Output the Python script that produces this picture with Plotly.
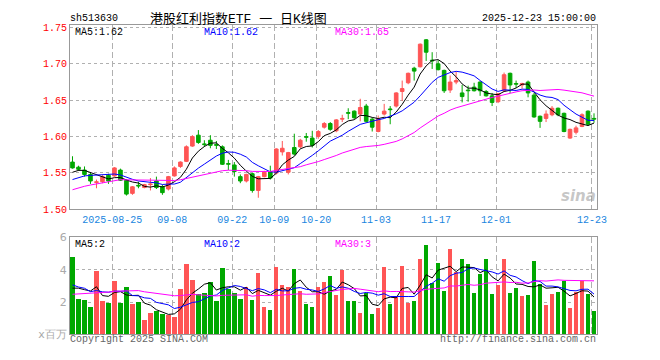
import plotly.graph_objects as go
import pandas as pd
import numpy as np

# ---------------- data ----------------
open_ = [1.565, 1.558, 1.554, 1.548, 1.537, 1.538, 1.547, 1.546, 1.554, 1.540,
         1.522, 1.533, 1.530, 1.534, 1.539, 1.531, 1.528, 1.546, 1.559, 1.566,
         1.587, 1.602, 1.590, 1.595, 1.589, 1.586, 1.563, 1.561, 1.545, 1.539,
         1.549, 1.526, 1.545, 1.552, 1.550, 1.579, 1.551, 1.585, 1.586, 1.600,
         1.598, 1.600, 1.613, 1.618, 1.608, 1.624, 1.633, 1.635, 1.631, 1.642,
         1.624, 1.607, 1.631, 1.638, 1.642, 1.662, 1.674, 1.694, 1.696, 1.733,
         1.705, 1.700, 1.691, 1.664, 1.675, 1.660, 1.664, 1.668, 1.675, 1.662,
         1.656, 1.648, 1.663, 1.687, 1.673, 1.671, 1.675, 1.657, 1.628, 1.625,
         1.630, 1.639, 1.632, 1.598, 1.606, 1.614, 1.635, 1.625]
high = [1.573, 1.560, 1.559, 1.551, 1.541, 1.547, 1.549, 1.558, 1.556, 1.541,
        1.532, 1.538, 1.535, 1.543, 1.545, 1.534, 1.546, 1.559, 1.566, 1.588,
        1.602, 1.609, 1.595, 1.602, 1.594, 1.588, 1.568, 1.565, 1.548, 1.549,
        1.550, 1.546, 1.553, 1.560, 1.584, 1.594, 1.579, 1.604, 1.597, 1.605,
        1.608, 1.609, 1.620, 1.620, 1.624, 1.630, 1.639, 1.636, 1.652, 1.645,
        1.626, 1.629, 1.645, 1.642, 1.661, 1.677, 1.688, 1.696, 1.728, 1.734,
        1.716, 1.705, 1.692, 1.684, 1.689, 1.671, 1.670, 1.674, 1.676, 1.664,
        1.660, 1.660, 1.688, 1.688, 1.677, 1.674, 1.677, 1.660, 1.629, 1.636,
        1.642, 1.640, 1.633, 1.611, 1.615, 1.632, 1.636, 1.632]
low = [1.556, 1.553, 1.545, 1.535, 1.529, 1.536, 1.535, 1.545, 1.539, 1.519,
       1.520, 1.529, 1.529, 1.526, 1.528, 1.520, 1.526, 1.545, 1.557, 1.565,
       1.586, 1.590, 1.586, 1.584, 1.583, 1.561, 1.554, 1.545, 1.536, 1.537,
       1.523, 1.516, 1.544, 1.541, 1.548, 1.574, 1.548, 1.574, 1.584, 1.593,
       1.585, 1.597, 1.611, 1.608, 1.606, 1.620, 1.624, 1.624, 1.621, 1.619,
       1.607, 1.606, 1.629, 1.617, 1.640, 1.649, 1.672, 1.677, 1.695, 1.704,
       1.693, 1.691, 1.660, 1.660, 1.672, 1.647, 1.648, 1.662, 1.656, 1.655,
       1.642, 1.646, 1.662, 1.660, 1.667, 1.666, 1.654, 1.626, 1.612, 1.620,
       1.628, 1.628, 1.606, 1.597, 1.603, 1.613, 1.615, 1.619]
close = [1.557, 1.555, 1.548, 1.539, 1.538, 1.545, 1.539, 1.557, 1.540, 1.521,
         1.531, 1.532, 1.534, 1.535, 1.530, 1.523, 1.545, 1.557, 1.565, 1.586,
         1.600, 1.592, 1.589, 1.588, 1.588, 1.562, 1.562, 1.552, 1.539, 1.548,
         1.526, 1.545, 1.551, 1.543, 1.583, 1.584, 1.578, 1.576, 1.595, 1.599,
         1.588, 1.607, 1.618, 1.610, 1.623, 1.625, 1.632, 1.626, 1.640, 1.621,
         1.613, 1.624, 1.635, 1.637, 1.660, 1.666, 1.687, 1.690, 1.727, 1.716,
         1.704, 1.692, 1.663, 1.675, 1.677, 1.655, 1.663, 1.663, 1.663, 1.656,
         1.647, 1.659, 1.685, 1.671, 1.672, 1.673, 1.660, 1.627, 1.621, 1.631,
         1.639, 1.630, 1.607, 1.610, 1.612, 1.630, 1.617, 1.624]
volume = [4.81, 2.19, 2.13, 1.69, 3.92, 2.07, 1.95, 3.32, 1.95, 2.90,
          1.89, 2.03, 0.88, 1.35, 1.47, 1.29, 1.19, 1.05, 2.78, 4.33,
          3.38, 2.48, 2.54, 3.24, 2.07, 4.09, 2.78, 2.54, 2.19, 2.96,
          2.13, 3.80, 1.71, 1.53, 4.15, 3.08, 2.90, 4.03, 2.66, 1.89,
          1.71, 2.90, 3.26, 3.62, 2.43, 3.97, 2.07, 2.07, 1.35, 2.54,
          1.29, 1.65, 4.15, 1.89, 2.31, 4.21, 1.95, 2.07, 4.69, 5.52,
          3.20, 4.39, 2.66, 5.29, 3.86, 4.63, 4.33, 2.54, 3.74, 4.69,
          2.49, 3.08, 4.63, 2.54, 2.84, 2.37, 2.43, 4.51, 3.14, 1.83,
          2.49, 2.60, 3.32, 1.65, 2.60, 3.32, 2.49, 1.47]
# sessions before the visible window (estimated from the MA lines at the left edge)
prev_close = [1.478, 1.482, 1.487, 1.490, 1.494, 1.498, 1.502,
              1.515, 1.528, 1.535, 1.540, 1.538, 1.542, 1.536, 1.540, 1.545,
              1.538, 1.535, 1.532, 1.545,
              1.525, 1.528, 1.532, 1.534, 1.536,
              1.542, 1.548, 1.553, 1.555]
prev_volume = [1.5, 1.8, 1.6, 1.9, 1.4, 1.7, 1.8, 1.6, 1.7, 1.8,
               2.4, 3.1, 2.6, 2.9, 2.5, 3.0, 2.7, 2.4, 2.8, 2.6,
               3.5, 2.9, 3.8, 3.2, 2.9,
               2.2, 2.6, 2.1, 2.59]
tick_dates = ["2025-08-25", "2025-09-08", "2025-09-22", "2025-10-09", "2025-10-20",
              "2025-11-03", "2025-11-17", "2025-12-01", "2025-12-23"]
tick_text = ["2025-08-25", "09-08", "09-22", "10-09", "10-20",
             "11-03", "11-17", "12-01", "12-23"]
price_ticks = [1.50, 1.55, 1.60, 1.65, 1.70, 1.75]
vol_ticks = [0, 2, 4, 6]
vol_tick_text = ["x百万", "2", "4", "6"]
ma_labels = ["MA5:1.62", "MA10:1.62", "MA30:1.65"]
vol_ma_labels = ["MA5:2", "MA10:2", "MA30:3"]

# ---------------- derived ----------------
days = pd.bdate_range("2025-08-14", "2025-12-23")
days = [d for d in days if not (pd.Timestamp("2025-10-01") <= d <= pd.Timestamp("2025-10-08"))]
date_str = [d.strftime("%Y-%m-%d") for d in days]
n = len(close)
idx = list(range(n))

RED = "#ff5555"
GREEN = "#00a800"
up = [c >= o for o, c in zip(open_, close)]
colors = [RED if u else GREEN for u in up]

all_close = pd.Series(prev_close + close)
all_vol = pd.Series(prev_volume + volume)
k = len(prev_close)
ma = {p: all_close.rolling(p).mean().iloc[k:].tolist() for p in (5, 10, 30)}
vma = {p: all_vol.rolling(p).mean().iloc[k:].tolist() for p in (5, 10, 30)}
ma_colors = {5: "#000000", 10: "#0000ff", 30: "#ff00ff"}

fig = go.Figure()

# wicks
for want, col in ((True, RED), (False, GREEN)):
    wx, wy = [], []
    for i in idx:
        if up[i] == want:
            wx += [i, i, None]
            wy += [low[i], high[i], None]
    fig.add_trace(go.Scatter(x=wx, y=wy, mode="lines", line=dict(color=col, width=1),
                             hoverinfo="skip", showlegend=False, xaxis="x", yaxis="y"))

# bodies
base = [min(o, c) for o, c in zip(open_, close)]
hgt = [max(abs(c - o), 0.0006) for o, c in zip(open_, close)]
fig.add_trace(go.Bar(x=idx, y=hgt, base=base, width=0.6,
                     marker=dict(color=colors, line=dict(color=colors, width=1)),
                     showlegend=False, xaxis="x", yaxis="y"))

# price MAs
for p in (5, 10, 30):
    fig.add_trace(go.Scatter(x=idx, y=ma[p], mode="lines",
                             line=dict(color=ma_colors[p], width=1),
                             showlegend=False, xaxis="x", yaxis="y"))

# volume
fig.add_trace(go.Bar(x=idx, y=volume, width=0.72, marker=dict(color=colors, line=dict(width=0)),
                     showlegend=False, xaxis="x2", yaxis="y2"))
for p in (5, 10, 30):
    fig.add_trace(go.Scatter(x=idx, y=vma[p], mode="lines",
                             line=dict(color=ma_colors[p], width=1),
                             showlegend=False, xaxis="x2", yaxis="y2"))

grid_x = [date_str.index(d) - 0.35 for d in tick_dates]
xr = [-0.417, n - 0.5]
W, H = 660.0, 360.0
ML, MR = 70, 62.5
mono = "Liberation Mono"

common_x = dict(range=xr, showline=True, mirror=True, linecolor="#999999", linewidth=1,
                showgrid=True, gridcolor="#b0b0b0", griddash="6px,3px", gridwidth=1,
                zeroline=False, tickvals=grid_x, fixedrange=True)
fig.update_layout(
    width=W, height=H,
    margin=dict(l=ML, r=MR, t=0, b=0),
    paper_bgcolor="white", plot_bgcolor="white",
    barmode="overlay", bargap=0,
    showlegend=False, hovermode=False,
    xaxis=dict(**common_x, domain=[0, 1], anchor="y", ticktext=tick_text,
               tickfont=dict(family=mono, size=10, color="#1a86e0"), ticks="outside",
               ticklen=1, tickcolor="rgba(0,0,0,0)"),
    xaxis2=dict(**common_x, domain=[0, 1], anchor="y2", showticklabels=False),
    yaxis=dict(domain=[(H - 211) / H, (H - 20) / H], range=[1.50, 1.753],
               tickvals=price_ticks, ticktext=["%.2f" % v for v in price_ticks],
               tickfont=dict(family=mono, size=10, color="#ff0000"),
               showline=True, mirror=True, linecolor="#999999", linewidth=1,
               showgrid=True, gridcolor="#b0b0b0", griddash="dot", gridwidth=1,
               zeroline=False, fixedrange=True, ticks=""),
    yaxis2=dict(domain=[(H - 340.7) / H, (H - 240) / H], range=[0, 6],
                tickvals=vol_ticks, ticktext=vol_tick_text,
                tickfont=dict(family="DejaVu Sans", size=11, color="#aaaaaa"),
                showline=True, mirror=True, linecolor="#999999", linewidth=1,
                showgrid=True, gridcolor="#b0b0b0", griddash="dot", gridwidth=1,
                zeroline=False, fixedrange=True, ticks=""),
)

def px(xpix):
    return (xpix - ML) / (W - ML - MR)

def txt(x, y, s, color="#000000", size=10, family=mono, xanchor="left"):
    fig.add_annotation(x=px(x), y=1 - y / H, xref="paper", yref="paper", text=s,
                       showarrow=False, xanchor=xanchor, yanchor="middle",
                       borderpad=0, font=dict(family=family, size=size, color=color))

txt(69, 13, "sh513630")
txt(149, 13, "港股红利指数ETF 一 日K线图", size=13, family="Liberation Mono, Noto Sans CJK SC")
txt(598, 13, "2025-12-23 15:00:00", xanchor="right")
txt(74, 27, ma_labels[0], color="#000000")
txt(203, 27, ma_labels[1], color="#0000ff")
txt(334, 27, ma_labels[2], color="#ff00ff")
txt(74, 247, vol_ma_labels[0], color="#000000")
txt(203, 247, vol_ma_labels[1], color="#0000ff")
txt(334, 247, vol_ma_labels[2], color="#ff00ff")
txt(69, 346, "Copyright 2025 SINA.COM", color="#666666")
txt(598, 346, "http://finance.sina.com.cn", color="#666666", xanchor="right")
txt(597, 197, "<b><i>sina</i></b>", color="rgba(150,150,150,0.55)", size=15,
    family="DejaVu Sans", xanchor="right")

fig.write_html("out.html", config={"displayModeBar": False, "staticPlot": True},
               post_script="document.body.style.margin='0';")
